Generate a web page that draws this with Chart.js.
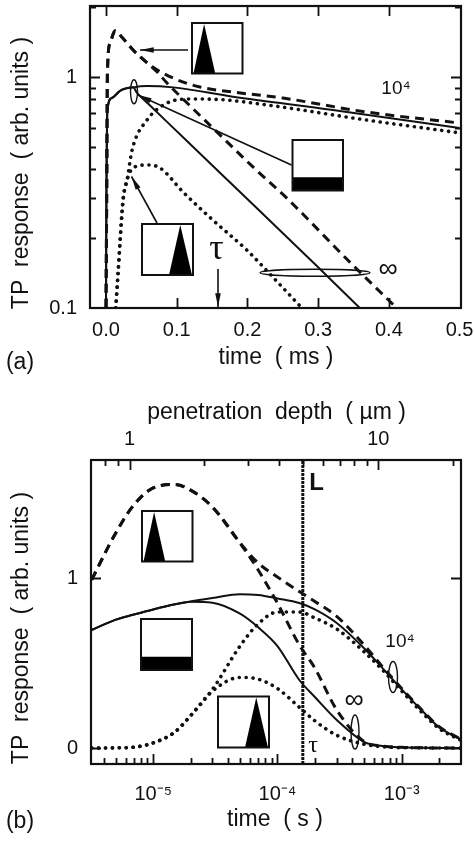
<!DOCTYPE html>
<html>
<head>
<meta charset="utf-8">
<style>
  html, body { margin: 0; padding: 0; background: #fff; overflow: hidden; }
  canvas { position: absolute; left: 0; }
  #chart-a { top: 0; }
  #chart-b { top: 390px; }
</style>
<script src="https://cdn.jsdelivr.net/npm/chart.js@4"></script>
</head>
<body>
<canvas id="chart-a" width="474" height="390"></canvas>
<canvas id="chart-b" width="474" height="452"></canvas>
<script>
// Panel (a): time in ms, response on a log axis
const aDashedRiseT = [0, 0.001, 0.002, 0.0058, 0.0129, 0.0223, 0.0383, 0.0623];
const aDashedRiseY = [0.1, 0.294, 1.04, 1.4, 1.585, 1.49, 1.31, 1.127];
const aDashedBulkT = [0.0948, 0.1329, 0.1795, 0.2501, 0.3688, 0.5];
const aDashedBulkY = [0.99, 0.905, 0.861, 0.811, 0.705, 0.632];
const aDashedInfT = [0.072, 0.0863, 0.1075, 0.1513, 0.2078, 0.2557, 0.3448, 0.411];
const aDashedInfY = [1.054, 0.942, 0.811, 0.601, 0.408, 0.299, 0.158, 0.1];

const aSolidRiseT = [0, 0.0006, 0.002, 0.0082, 0.0199, 0.0383];
const aSolidRiseY = [0.1, 0.294, 0.72, 0.811, 0.872, 0.902];
const aSolidBulkT = [0.058, 0.0948, 0.1795, 0.3208, 0.5];
const aSolidBulkY = [0.914, 0.902, 0.822, 0.72, 0.601];
const aSolidInfT = [0.0439, 0.0623, 0.1145, 0.1866, 0.2982, 0.3589];
const aSolidInfY = [0.853, 0.753, 0.528, 0.324, 0.152, 0.1];

const aDottedRiseT = [0.0138, 0.0171, 0.0242, 0.0298];
const aDottedRiseY = [0.1, 0.142, 0.294, 0.358];
const aDottedBulkT = [0.0369, 0.058, 0.0863, 0.1188, 0.1569, 0.2275, 0.3688, 0.5];
const aDottedBulkY = [0.483, 0.651, 0.771, 0.803, 0.8, 0.757, 0.651, 0.573];
const aDottedInfT = [0.0383, 0.058, 0.0764, 0.1089, 0.1513, 0.1993, 0.236, 0.277];
const aDottedInfY = [0.404, 0.416, 0.404, 0.318, 0.24, 0.178, 0.136, 0.1];

const aXTicks = [0, 0.1, 0.2, 0.3, 0.4, 0.5];
const aXLabels = ["0.0", "0.1", "0.2", "0.3", "0.4", "0.5"];
const aYTicks = [0.1, 0.2, 0.3, 0.4, 0.5, 0.6, 0.7, 0.8, 0.9, 1, 2];
const aYMajor = [0.1, 1];

// Panel (b): time in s on a log axis, depth on the top axis
const bTime = [3.2e-6, 5e-6, 7e-6, 1e-5, 1.5e-5, 2e-5, 3e-5, 5e-5, 7e-5, 1e-4, 1.5e-4, 2e-4, 3e-4, 5e-4, 7e-4, 1e-3, 1.5e-3, 2e-3, 3e-3];
const bDashedBulk = [0.99, 1.265, 1.43, 1.53, 1.55, 1.517, 1.417, 1.206, 1.088, 1.006, 0.92, 0.862, 0.774, 0.605, 0.478, 0.35, 0.213, 0.125, 0.052];
const bDashedInf = [0.99, 1.265, 1.43, 1.53, 1.55, 1.517, 1.417, 1.206, 1.047, 0.852, 0.606, 0.47, 0.224, 0.037, 0.012, 0.004, 0.001, 0, 0];
const bSolidBulk = [0.694, 0.755, 0.785, 0.815, 0.845, 0.862, 0.882, 0.905, 0.9, 0.88, 0.853, 0.815, 0.735, 0.585, 0.47, 0.345, 0.21, 0.122, 0.05];
const bSolidInf = [0.694, 0.755, 0.785, 0.815, 0.845, 0.86, 0.855, 0.79, 0.71, 0.6, 0.4, 0.3, 0.165, 0.035, 0.012, 0.004, 0.001, 0, 0];
const bDottedBulk = [0, 0.001, 0.005, 0.03, 0.095, 0.19, 0.345, 0.6, 0.73, 0.8, 0.8, 0.765, 0.7, 0.565, 0.46, 0.335, 0.2, 0.115, 0.045];
const bDottedInf = [0, 0.001, 0.005, 0.03, 0.095, 0.19, 0.335, 0.415, 0.405, 0.35, 0.24, 0.16, 0.075, 0.022, 0.008, 0.002, 0.001, 0, 0];
const bMarkerT = [1.6e-4, 1.6e-4];
const bMarkerY = [-0.094, 1.694];

const bXTicks = [4e-6, 5e-6, 6e-6, 7e-6, 8e-6, 9e-6, 1e-5, 2e-5, 3e-5, 4e-5, 5e-5, 6e-5, 7e-5, 8e-5, 9e-5, 1e-4, 2e-4, 3e-4, 4e-4, 5e-4, 6e-4, 7e-4, 8e-4, 9e-4, 1e-3, 2e-3];
const bXMajor = [1e-5, 1e-4, 1e-3];
const bXLabels = ["10\u207B\u2075", "10\u207B\u2074", "10\u207B\u00B3"];
const bYTicks = [0, 1];
const bDepthTicks = [0.8, 0.9, 1, 2, 3, 4, 5, 6, 7, 8, 9, 10, 20];
const bDepthMajor = [1, 10];

const INK = "#111";
const SANS = '"Liberation Sans", Arial, sans-serif';
const SERIF = '"Liberation Serif", serif';
const TICK_FONT = { family: SANS, size: 20 };
const TITLE = "23px " + SANS;

function points(xs, ys) {
  return xs.map((x, i) => ({ x: x, y: ys[i] }));
}

function curve(data, kind) {
  const ds = {
    data: data,
    borderColor: INK,
    pointRadius: 0,
    fill: false,
    cubicInterpolationMode: "monotone",
    borderWidth: 2,
  };
  if (kind === "dashed") {
    ds.borderWidth = 3;
    ds.borderDash = [9, 6];
  }
  if (kind === "dotted") {
    ds.borderWidth = 3.6;
    ds.borderDash = [0.1, 6.8];
    ds.borderCapStyle = "round";
  }
  return ds;
}

function text(ctx, str, x, y, font, rotate) {
  ctx.save();
  ctx.font = font;
  ctx.fillStyle = INK;
  ctx.textAlign = "center";
  ctx.textBaseline = "middle";
  ctx.translate(x, y);
  if (rotate) ctx.rotate(-Math.PI / 2);
  ctx.fillText(str, 0, 0);
  ctx.restore();
}

function arrow(ctx, x1, y1, x2, y2) {
  const a = Math.atan2(y2 - y1, x2 - x1);
  ctx.beginPath();
  ctx.moveTo(x1, y1);
  ctx.lineTo(x2, y2);
  ctx.lineWidth = 1.6;
  ctx.strokeStyle = INK;
  ctx.stroke();
  ctx.beginPath();
  ctx.moveTo(x2, y2);
  ctx.lineTo(x2 - 14 * Math.cos(a - 0.2), y2 - 14 * Math.sin(a - 0.2));
  ctx.lineTo(x2 - 14 * Math.cos(a + 0.2), y2 - 14 * Math.sin(a + 0.2));
  ctx.closePath();
  ctx.fillStyle = INK;
  ctx.fill();
}

function ellipse(ctx, x, y, rx, ry) {
  ctx.beginPath();
  ctx.ellipse(x, y, rx, ry, 0, 0, Math.PI * 2);
  ctx.lineWidth = 1.4;
  ctx.strokeStyle = INK;
  ctx.stroke();
}

// little sample sketch: white box, black shape inside
function inset(ctx, x, y, size, shape) {
  ctx.fillStyle = "#fff";
  ctx.fillRect(x, y, size, size);
  ctx.fillStyle = "#000";
  ctx.beginPath();
  shape.forEach((p, i) => {
    if (i === 0) ctx.moveTo(x + p[0] * size, y + p[1] * size);
    else ctx.lineTo(x + p[0] * size, y + p[1] * size);
  });
  ctx.closePath();
  ctx.fill();
  ctx.lineWidth = 2;
  ctx.strokeStyle = INK;
  ctx.strokeRect(x, y, size, size);
}

const SHAPE_FRONT = [[0.03, 1], [0.24, 0.02], [0.46, 1]];
const SHAPE_BAND = [[0, 0.74], [1, 0.74], [1, 1], [0, 1]];
const SHAPE_BACK = [[0.53, 1], [0.75, 0.02], [0.98, 1]];

function drawTicks(ctx, scale, major, side) {
  const area = scale.chart.chartArea;
  ctx.beginPath();
  scale.ticks.forEach((t) => {
    const p = Math.round(scale.getPixelForValue(t.value)) + 0.5;
    const len = major.includes(t.value) ? 10 : 6;
    if (p < (scale.isHorizontal() ? area.left : area.top) + 1) return;
    if (p > (scale.isHorizontal() ? area.right : area.bottom) - 1) return;
    side.forEach((s) => {
      if (s === "bottom") { ctx.moveTo(p, area.bottom); ctx.lineTo(p, area.bottom - len); }
      if (s === "top") { ctx.moveTo(p, area.top); ctx.lineTo(p, area.top + len); }
      if (s === "left") { ctx.moveTo(area.left, p); ctx.lineTo(area.left + len, p); }
      if (s === "right") { ctx.moveTo(area.right, p); ctx.lineTo(area.right - len, p); }
    });
  });
  ctx.lineWidth = 1.8;
  ctx.strokeStyle = INK;
  ctx.stroke();
}

function frame(ctx, area) {
  ctx.lineWidth = 2.2;
  ctx.strokeStyle = INK;
  ctx.strokeRect(area.left, area.top, area.right - area.left, area.bottom - area.top);
}

const panelA = {
  id: "panelA",
  afterDraw(chart) {
    const ctx = chart.ctx;
    ctx.save();
    drawTicks(ctx, chart.scales.x, aXTicks, ["bottom", "top"]);
    drawTicks(ctx, chart.scales.y, aYMajor, ["left", "right"]);
    frame(ctx, chart.chartArea);

    arrow(ctx, 188, 50, 140, 50);
    arrow(ctx, 291.5, 165, 138, 95);
    arrow(ctx, 157, 223, 131.5, 176.5);
    arrow(ctx, 218, 269, 218, 307);
    ellipse(ctx, 134, 91.7, 3.5, 12);
    ellipse(ctx, 315, 272.7, 55, 3.5);
    inset(ctx, 192, 23, 50.5, SHAPE_FRONT);
    inset(ctx, 292.5, 140, 50.5, SHAPE_BAND);
    inset(ctx, 142, 224, 51, SHAPE_BACK);

    text(ctx, "TP  response  ( arb. units )", 22, 173, TITLE, true);
    text(ctx, "time  ( ms )", 276, 358, TITLE);
    text(ctx, "(a)", 20, 363, "23px " + SANS);
    text(ctx, "10\u2074", 396, 89, "19px " + SANS);
    text(ctx, "\u221E", 388, 270, "27px " + SANS);
    text(ctx, "\u03C4", 216.5, 250, "36px " + SERIF);
    ctx.restore();
  },
};

const panelB = {
  id: "panelB",
  afterDraw(chart) {
    const ctx = chart.ctx;
    ctx.save();
    drawTicks(ctx, chart.scales.x, bXMajor, ["bottom"]);
    drawTicks(ctx, chart.scales.x2, bDepthMajor, ["top"]);
    drawTicks(ctx, chart.scales.y, bYTicks, ["left", "right"]);
    frame(ctx, chart.chartArea);

    // decorations below are given in page coordinates
    ctx.translate(0, -390);
    ellipse(ctx, 355, 732, 4, 17);
    ellipse(ctx, 393, 677, 4.5, 15.5);
    inset(ctx, 142, 511, 50.5, SHAPE_FRONT);
    inset(ctx, 141, 619, 51, SHAPE_BAND);
    inset(ctx, 218, 696.5, 51, SHAPE_BACK);

    text(ctx, "TP  response  ( arb. units )", 22, 628, TITLE, true);
    text(ctx, "penetration  depth  ( \u00B5m )", 276.5, 413, TITLE);
    text(ctx, "time  ( s )", 275, 820, TITLE);
    text(ctx, "(b)", 20, 822, "23px " + SANS);
    text(ctx, "L", 316.5, 483, "bold 24px " + SANS);
    text(ctx, "\u03C4", 313, 746, "24px " + SERIF);
    text(ctx, "\u221E", 354, 701, "27px " + SANS);
    text(ctx, "10\u2074", 400, 642, "19px " + SANS);
    ctx.restore();
  },
};

function setTicks(list) {
  return (scale) => {
    scale.ticks = list.map((v) => ({ value: v }));
  };
}

function labelFrom(values, labels) {
  return (v) => {
    const i = values.indexOf(v);
    return i >= 0 ? labels[i] : "";
  };
}

function hiddenGrid() {
  return { display: false, drawTicks: false, drawBorder: false };
}

// fixed box for the axis, so the plot area does not move with the labels
function fixHeight(h) {
  return (s) => {
    s.height = h;
    s.paddingLeft = s.paddingRight = 0;
  };
}

function fixWidth(w) {
  return (s) => {
    s.width = w;
    s.paddingTop = s.paddingBottom = 0;
  };
}

new Chart(document.getElementById("chart-a"), {
  type: "line",
  data: {
    datasets: [
      curve(points(aDashedRiseT.concat(aDashedBulkT), aDashedRiseY.concat(aDashedBulkY)), "dashed"),
      curve(points(aDashedRiseT.slice(0, 7).concat(aDashedInfT), aDashedRiseY.slice(0, 7).concat(aDashedInfY)), "dashed"),
      curve(points(aSolidRiseT.concat(aSolidBulkT), aSolidRiseY.concat(aSolidBulkY)), "solid"),
      curve(points(aSolidRiseT.concat(aSolidInfT), aSolidRiseY.concat(aSolidInfY)), "solid"),
      curve(points(aDottedRiseT.concat(aDottedBulkT), aDottedRiseY.concat(aDottedBulkY)), "dotted"),
      curve(points(aDottedRiseT.concat(aDottedInfT), aDottedRiseY.concat(aDottedInfY)), "dotted"),
    ],
  },
  plugins: [panelA],
  options: {
    responsive: false,
    animation: false,
    layout: { padding: { top: 6, right: 13, left: 0, bottom: 0 } },
    plugins: { legend: { display: false }, tooltip: { enabled: false } },
    scales: {
      x: {
        type: "linear",
        bounds: "data",
        min: -0.0226,
        max: 0.502,
        grid: hiddenGrid(),
        border: { display: false },
        afterBuildTicks: setTicks(aXTicks),
        afterFit: fixHeight(82),
        ticks: {
          autoSkip: false, maxRotation: 0, minRotation: 0, padding: 10, color: INK, font: TICK_FONT,
          callback: labelFrom(aXTicks, aXLabels),
        },
      },
      y: {
        type: "logarithmic",
        bounds: "data",
        min: 0.1,
        max: 2.03,
        grid: hiddenGrid(),
        border: { display: false },
        afterBuildTicks: setTicks(aYTicks),
        afterFit: fixWidth(90),
        ticks: {
          autoSkip: false, padding: 13, color: INK, font: TICK_FONT,
          callback: labelFrom(aYMajor, ["0.1", "1"]),
        },
      },
    },
  },
});

new Chart(document.getElementById("chart-b"), {
  type: "line",
  data: {
    datasets: [
      curve(points(bTime, bDashedBulk), "dashed"),
      curve(points(bTime, bDashedInf), "dashed"),
      curve(points(bTime, bSolidBulk), "solid"),
      curve(points(bTime, bSolidInf), "solid"),
      curve(points(bTime, bDottedBulk), "dotted"),
      curve(points(bTime, bDottedInf), "dotted"),
      {
        data: points(bMarkerT, bMarkerY),
        borderColor: INK,
        borderWidth: 3,
        borderDash: [3, 1],
        pointRadius: 0,
      },
    ],
  },
  plugins: [panelB],
  options: {
    responsive: false,
    animation: false,
    layout: { padding: { top: 0, right: 13, left: 0, bottom: 0 } },
    plugins: { legend: { display: false }, tooltip: { enabled: false } },
    scales: {
      x: {
        type: "logarithmic",
        position: "bottom",
        bounds: "data",
        min: 3.16e-6,
        max: 3e-3,
        grid: hiddenGrid(),
        border: { display: false },
        afterBuildTicks: setTicks(bXTicks),
        afterFit: fixHeight(78),
        ticks: {
          autoSkip: false, maxRotation: 0, minRotation: 0, padding: 18, color: INK, font: TICK_FONT,
          callback: labelFrom(bXMajor, bXLabels),
        },
      },
      x2: {
        type: "logarithmic",
        position: "top",
        bounds: "data",
        min: 0.7,
        max: 21.5,
        grid: hiddenGrid(),
        border: { display: false },
        afterBuildTicks: setTicks(bDepthTicks),
        afterFit: fixHeight(70),
        ticks: {
          autoSkip: false, maxRotation: 0, minRotation: 0, padding: 9, color: INK, font: TICK_FONT,
          callback: labelFrom(bDepthMajor, ["1", "10"]),
        },
      },
      y: {
        type: "linear",
        bounds: "data",
        min: -0.094,
        max: 1.694,
        grid: hiddenGrid(),
        border: { display: false },
        afterBuildTicks: setTicks(bYTicks),
        afterFit: fixWidth(91),
        ticks: {
          autoSkip: false, padding: 13, color: INK, font: TICK_FONT,
          callback: (v) => String(v),
        },
      },
    },
  },
});
</script>
</body>
</html>
